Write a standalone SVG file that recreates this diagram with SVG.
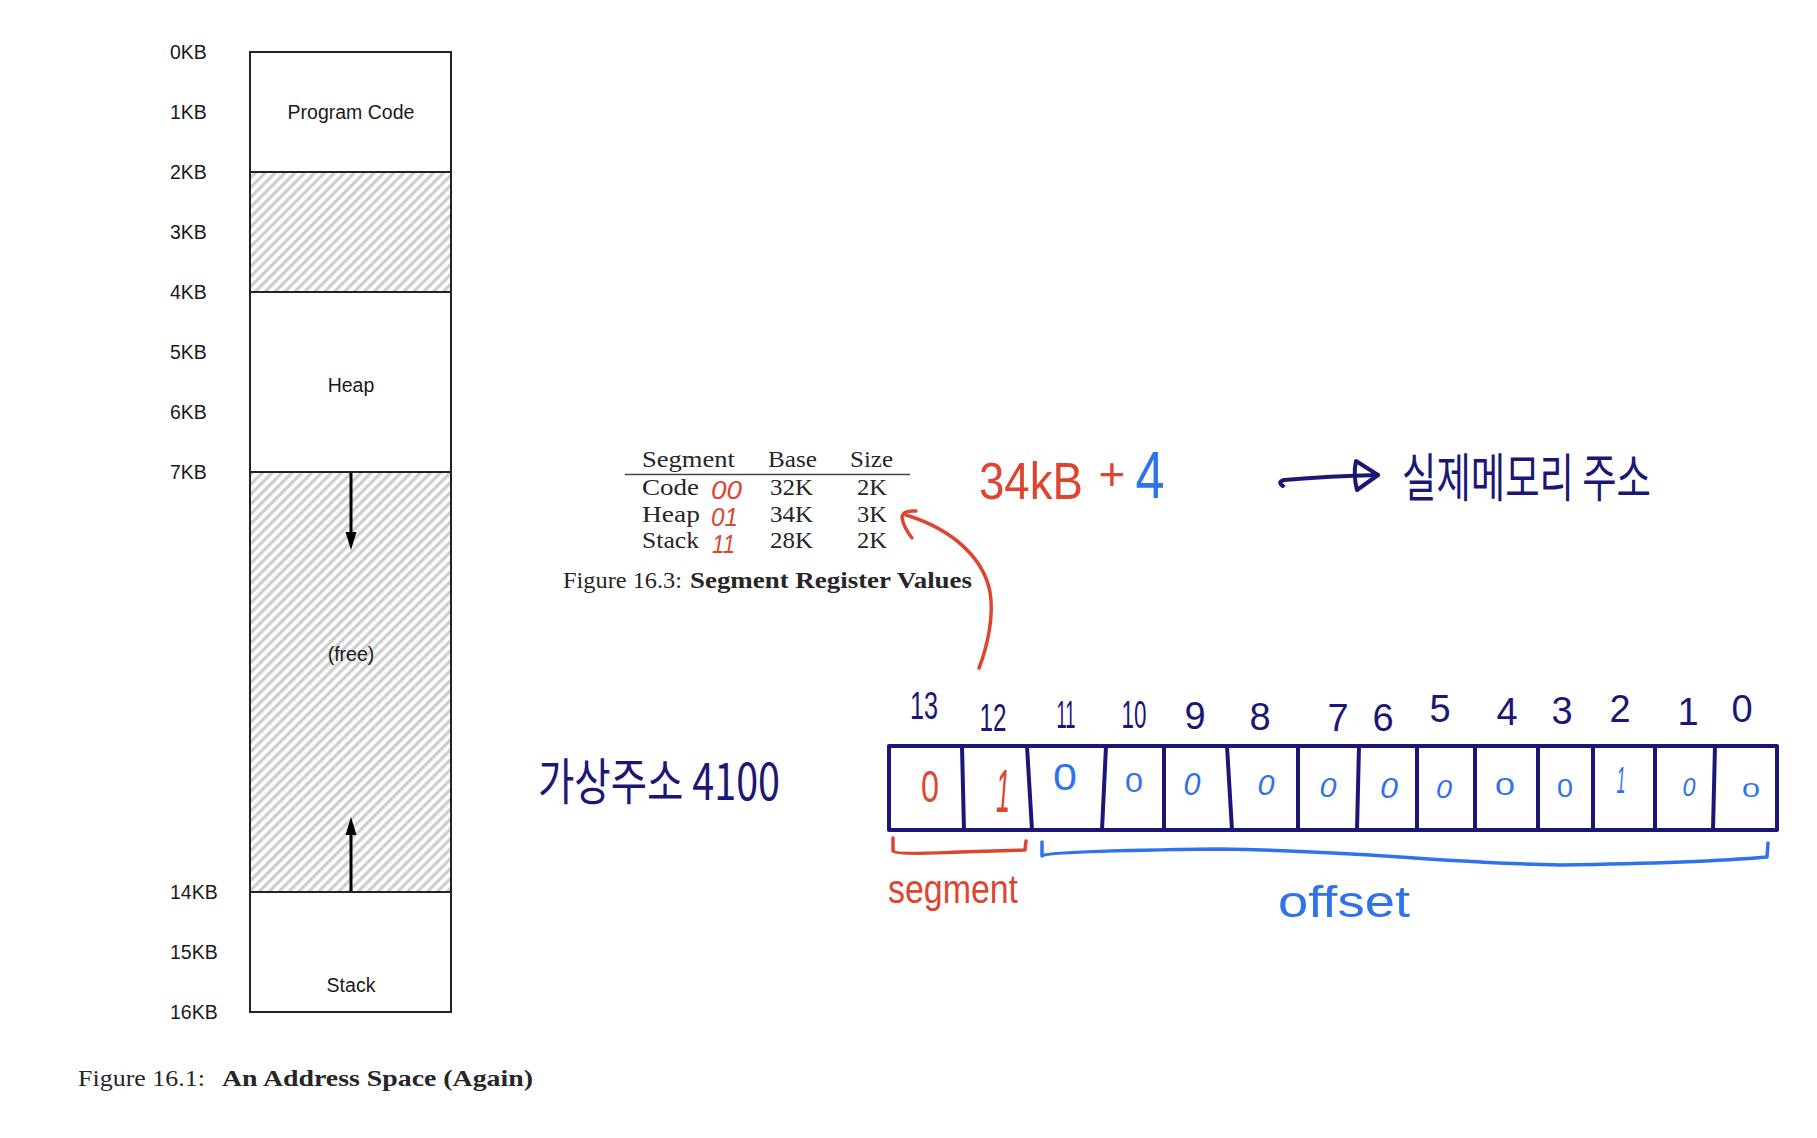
<svg xmlns="http://www.w3.org/2000/svg" width="1817" height="1138" viewBox="0 0 1817 1138">
<style>
.lbl{font-family:"Liberation Sans",Arial,sans-serif;font-size:19.5px;fill:#1a1a1a}
.mid{text-anchor:middle}
.box{fill:#fff;stroke:#222;stroke-width:2}
.hat{fill:url(#hatch);stroke:#222;stroke-width:2}
.ser{font-family:"Liberation Serif","Times New Roman",serif;font-size:23px;fill:#262626}
.bold{font-weight:bold}
.hw{font-family:"Liberation Sans",Arial,sans-serif}
.kr{font-family:"Noto Sans CJK KR","Noto Sans",sans-serif}
.navy{fill:#1b1777}
.red{fill:#dc4630}
.blue{fill:#2f72ec}
.nstroke{fill:none;stroke:#1b1777;stroke-width:4;stroke-linecap:round;stroke-linejoin:round}
.rstroke{fill:none;stroke:#dc4630;stroke-width:3.5;stroke-linecap:round;stroke-linejoin:round}
.bstroke{fill:none;stroke:#2f72ec;stroke-width:3.5;stroke-linecap:round;stroke-linejoin:round}
.bitnum{font-family:"Liberation Sans",Arial,sans-serif;font-size:38px;fill:#1b1777;text-anchor:middle}
.bitval{font-family:"Liberation Sans",Arial,sans-serif;text-anchor:middle}
</style>
<defs>
<pattern id="hatch" width="7" height="7" patternUnits="userSpaceOnUse" patternTransform="rotate(45)">
<rect width="7" height="7" fill="#fff"/>
<line x1="1.75" y1="0" x2="1.75" y2="7" stroke="#cdcdcd" stroke-width="3.2"/>
</pattern>
</defs>
<rect width="1817" height="1138" fill="#fff"/>

<!-- Address space -->
<g id="address-space">
<rect class="box" x="250" y="52" width="201" height="120"/>
<rect class="hat" x="250" y="172" width="201" height="120"/>
<rect class="box" x="250" y="292" width="201" height="180"/>
<rect class="hat" x="250" y="472" width="201" height="420"/>
<rect class="box" x="250" y="892" width="201" height="120"/>
<text class="lbl mid" x="351" y="119">Program Code</text>
<text class="lbl mid" x="351" y="392">Heap</text>
<text class="lbl mid" x="351" y="661">(free)</text>
<text class="lbl mid" x="351" y="992">Stack</text>
</g>
<g id="kb-labels">
<text class="lbl" x="170" y="59">0KB</text>
<text class="lbl" x="170" y="119">1KB</text>
<text class="lbl" x="170" y="179">2KB</text>
<text class="lbl" x="170" y="239">3KB</text>
<text class="lbl" x="170" y="299">4KB</text>
<text class="lbl" x="170" y="359">5KB</text>
<text class="lbl" x="170" y="419">6KB</text>
<text class="lbl" x="170" y="479">7KB</text>
<text class="lbl" x="170" y="899">14KB</text>
<text class="lbl" x="170" y="959">15KB</text>
<text class="lbl" x="170" y="1019">16KB</text>
</g>
<g id="caption-16-1">
<text class="ser" x="78" y="1086" textLength="127" lengthAdjust="spacingAndGlyphs">Figure 16.1:</text>
<text class="ser bold" x="222" y="1086" textLength="311" lengthAdjust="spacingAndGlyphs">An Address Space (Again)</text>
</g>

<!-- Segment register table -->
<g id="segment-table">
<text class="ser" x="642" y="467" textLength="93" lengthAdjust="spacingAndGlyphs">Segment</text>
<text class="ser" x="768" y="467" textLength="49" lengthAdjust="spacingAndGlyphs">Base</text>
<text class="ser" x="850" y="467" textLength="43" lengthAdjust="spacingAndGlyphs">Size</text>
<line x1="625" y1="474.5" x2="910" y2="474.5" stroke="#444" stroke-width="1.4"/>
<text class="ser" x="642" y="495" textLength="57" lengthAdjust="spacingAndGlyphs">Code</text>
<text class="ser" x="770" y="495" textLength="43" lengthAdjust="spacingAndGlyphs">32K</text>
<text class="ser" x="857" y="495" textLength="30" lengthAdjust="spacingAndGlyphs">2K</text>
<text class="ser" x="642" y="521.5" textLength="58" lengthAdjust="spacingAndGlyphs">Heap</text>
<text class="ser" x="770" y="521.5" textLength="43" lengthAdjust="spacingAndGlyphs">34K</text>
<text class="ser" x="857" y="521.5" textLength="30" lengthAdjust="spacingAndGlyphs">3K</text>
<text class="ser" x="642" y="548" textLength="57" lengthAdjust="spacingAndGlyphs">Stack</text>
<text class="ser" x="770" y="548" textLength="43" lengthAdjust="spacingAndGlyphs">28K</text>
<text class="ser" x="857" y="548" textLength="30" lengthAdjust="spacingAndGlyphs">2K</text>
<text class="hw red" x="711" y="499" font-size="25" font-style="italic" textLength="31" lengthAdjust="spacingAndGlyphs">00</text>
<text class="hw red" x="711" y="526" font-size="25" font-style="italic" textLength="27" lengthAdjust="spacingAndGlyphs">01</text>
<text class="hw red" x="712" y="553" font-size="25" font-style="italic" textLength="23" lengthAdjust="spacingAndGlyphs">11</text>
</g>
<g id="caption-16-3">
<text class="ser" x="563" y="588" textLength="119" lengthAdjust="spacingAndGlyphs">Figure 16.3:</text>
<text class="ser bold" x="690" y="588" textLength="282" lengthAdjust="spacingAndGlyphs">Segment Register Values</text>
</g>

<!-- Handwritten notes -->
<g id="physical-calc">
<text class="hw red" x="979" y="499" font-size="52" textLength="104" lengthAdjust="spacingAndGlyphs">34kB</text>
<text class="hw red" x="1112" y="490" font-size="46" text-anchor="middle">+</text>
<text class="hw blue" x="1150" y="498" font-size="66" text-anchor="middle" textLength="29" lengthAdjust="spacingAndGlyphs">4</text>
</g>
<g id="physical-address">
<text class="kr navy" x="1402" y="497" font-size="52" textLength="249" lengthAdjust="spacingAndGlyphs">실제메모리 주소</text>
</g>
<g id="virtual-address">
<text class="kr navy" x="538" y="800" font-size="50" textLength="242" lengthAdjust="spacingAndGlyphs">가상주소 4100</text>
</g>

<!-- Bit register -->
<g id="bit-register">
<path class="nstroke" d="M889,746 H1777 V830 H889 Z"/>
<path class="nstroke" d="M962,746 L964,830 M1027,746 L1032,830 M1106,746 L1102,830 M1164,746 L1164,830 M1227,746 L1232,830 M1298,746 L1298,830 M1359,746 L1357,830 M1417,746 L1417,830 M1475,746 L1475,830 M1538,746 L1538,830 M1593,746 L1593,830 M1655,746 L1655,830 M1715,746 L1713,830"/>
<text class="bitnum" x="924" y="719" textLength="28" lengthAdjust="spacingAndGlyphs">13</text>
<text class="bitnum" x="993" y="731" textLength="27" lengthAdjust="spacingAndGlyphs">12</text>
<text class="bitnum" x="1066" y="728" textLength="19" lengthAdjust="spacingAndGlyphs">11</text>
<text class="bitnum" x="1134" y="728" textLength="25" lengthAdjust="spacingAndGlyphs">10</text>
<text class="bitnum" x="1195" y="729">9</text>
<text class="bitnum" x="1260" y="730">8</text>
<text class="bitnum" x="1338" y="731">7</text>
<text class="bitnum" x="1383" y="731">6</text>
<text class="bitnum" x="1440" y="722">5</text>
<text class="bitnum" x="1507" y="725">4</text>
<text class="bitnum" x="1562" y="724">3</text>
<text class="bitnum" x="1620" y="722">2</text>
<text class="bitnum" x="1688" y="725">1</text>
<text class="bitnum" x="1742" y="722">0</text>
<text class="bitval red" x="930" y="802" font-size="44" textLength="18" lengthAdjust="spacingAndGlyphs">0</text>
<text class="bitval red" x="1003" y="812" font-size="62" font-style="italic" textLength="14" lengthAdjust="spacingAndGlyphs">1</text>
<text class="bitval blue" x="1065" y="790" font-size="37" textLength="24" lengthAdjust="spacingAndGlyphs">0</text>
<text class="bitval blue" x="1134" y="792" font-size="28" textLength="18" lengthAdjust="spacingAndGlyphs">0</text>
<text class="bitval blue" x="1192" y="795" font-size="31" font-style="italic" textLength="17" lengthAdjust="spacingAndGlyphs">0</text>
<text class="bitval blue" x="1266" y="795" font-size="30" font-style="italic" textLength="17" lengthAdjust="spacingAndGlyphs">0</text>
<text class="bitval blue" x="1328" y="797" font-size="28" font-style="italic" textLength="17" lengthAdjust="spacingAndGlyphs">0</text>
<text class="bitval blue" x="1389" y="798" font-size="29" font-style="italic" textLength="18" lengthAdjust="spacingAndGlyphs">0</text>
<text class="bitval blue" x="1444" y="798" font-size="25" font-style="italic" textLength="16" lengthAdjust="spacingAndGlyphs">0</text>
<text class="bitval blue" x="1505" y="795" font-size="24" textLength="20" lengthAdjust="spacingAndGlyphs">0</text>
<text class="bitval blue" x="1565" y="797" font-size="26" textLength="16" lengthAdjust="spacingAndGlyphs">0</text>
<text class="bitval blue" x="1621" y="793" font-size="36" font-style="italic" textLength="9" lengthAdjust="spacingAndGlyphs">1</text>
<text class="bitval blue" x="1689" y="796" font-size="26" font-style="italic" textLength="13" lengthAdjust="spacingAndGlyphs">0</text>
<text class="bitval blue" x="1751" y="797" font-size="20" textLength="18" lengthAdjust="spacingAndGlyphs">0</text>
</g>
<g id="segment-label">
<text class="hw red" x="888" y="903" font-size="40" textLength="130" lengthAdjust="spacingAndGlyphs">segment</text>
</g>
<g id="offset-label">
<text class="hw blue" x="1278" y="917" font-size="44" textLength="132" lengthAdjust="spacingAndGlyphs">offset</text>
</g>

<!-- Connectors -->
<g id="connectors">
<line x1="351" y1="473" x2="351" y2="534" stroke="#000" stroke-width="3"/>
<polygon points="345.5,532 356.5,532 351,550" fill="#000"/>
<line x1="351" y1="891" x2="351" y2="833" stroke="#000" stroke-width="3"/>
<polygon points="345.5,835 356.5,835 351,817" fill="#000"/>
<path class="rstroke" d="M979,668 C988,645 994,615 990,592 C984,560 955,530 906,515"/>
<path class="rstroke" d="M916,511 Q902,510 902,518 Q904,528 912,538"/>
<path class="nstroke" d="M1283,486 Q1277,482 1284,480 Q1330,476 1378,475"/>
<path class="nstroke" d="M1356,461 Q1353,475 1357,490 L1378,475 Z"/>
<path class="rstroke" d="M893,838 L893,851 Q895,855 960,852 L1025,850 L1026,841"/>
<path class="bstroke" d="M1042,842 L1042,856 Q1046,851 1220,849 Q1300,850 1400,857 Q1500,864 1560,865 Q1700,863 1767,857 L1768,843"/>
</g>
</svg>
